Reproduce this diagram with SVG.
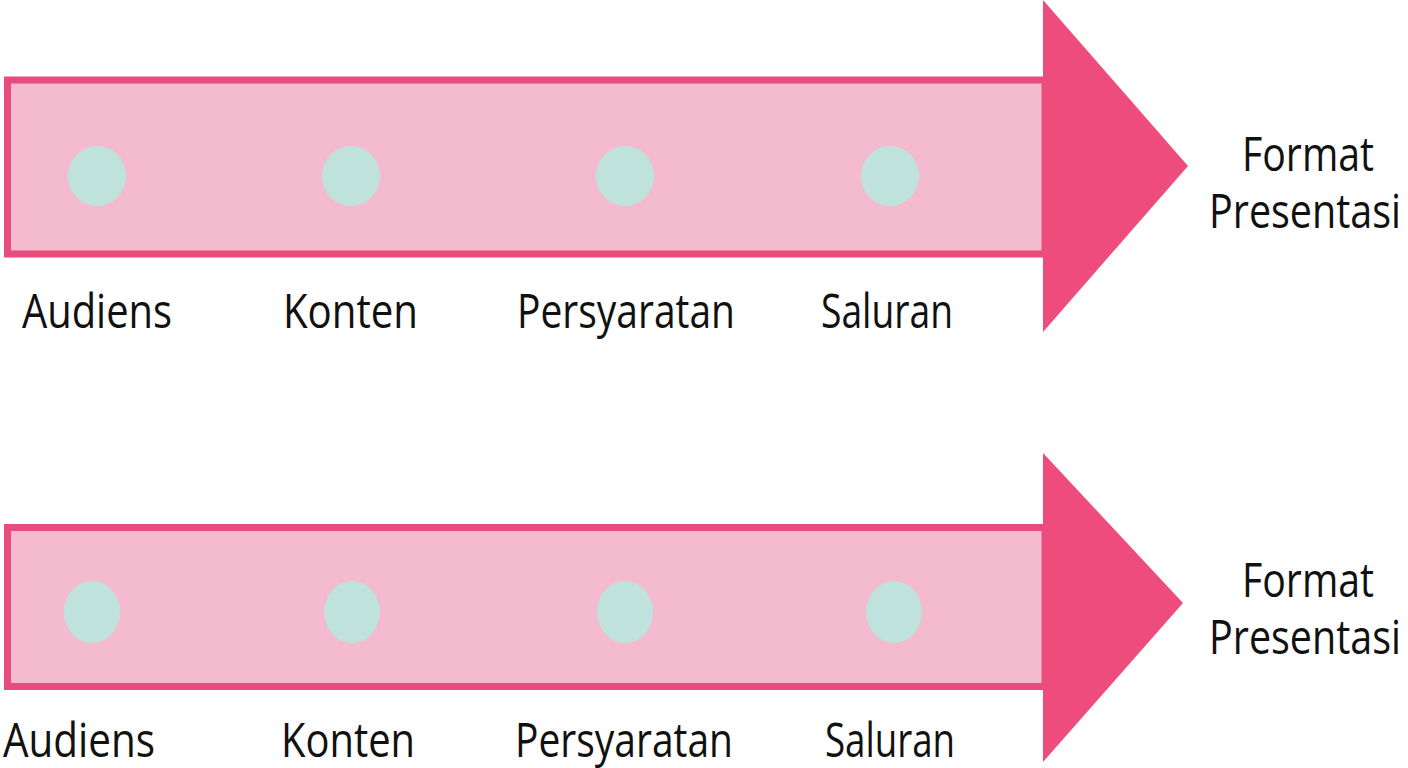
<svg xmlns="http://www.w3.org/2000/svg" width="1408" height="768" viewBox="0 0 1408 768">
<style>
.bar{fill:#F3BBCD;stroke:#E84C7D;stroke-width:7}
.head{fill:#EF4C7E}
.dot{fill:#BFE3DC}
.lbl{font-family:"Open Sans","Noto Sans",sans-serif;font-size:48px;fill:#111}
.end{font-family:"Open Sans","Noto Sans",sans-serif;font-size:48px;fill:#111;text-anchor:middle}
</style>
<rect width="1408" height="768" fill="#FFFFFF"/>
<g id="arrow1">
<rect class="bar" x="7.5" y="80" width="1037.5" height="174"/>
<polygon class="head" points="1043,0 1188,166 1043,332"/>
</g>
<g id="arrow2">
<rect class="bar" x="7.5" y="527.5" width="1037.5" height="159"/>
<polygon class="head" points="1043,453 1183,603 1043,762"/>
</g>
<g id="node-audiens-1"><ellipse class="dot" cx="97" cy="176" rx="29" ry="30"/><text class="lbl" x="22" y="328" textLength="150" lengthAdjust="spacingAndGlyphs">Audiens</text></g>
<g id="node-konten-1"><ellipse class="dot" cx="351" cy="176" rx="29" ry="30"/><text class="lbl" x="283" y="328" textLength="135" lengthAdjust="spacingAndGlyphs">Konten</text></g>
<g id="node-persyaratan-1"><ellipse class="dot" cx="625" cy="176" rx="29" ry="30"/><text class="lbl" x="517" y="328" textLength="218" lengthAdjust="spacingAndGlyphs">Persyaratan</text></g>
<g id="node-saluran-1"><ellipse class="dot" cx="890" cy="176" rx="29" ry="30"/><text class="lbl" x="821" y="328" textLength="132" lengthAdjust="spacingAndGlyphs">Saluran</text></g>
<g id="node-format-1"><text class="end" x="1308" y="171" textLength="132" lengthAdjust="spacingAndGlyphs">Format</text><text class="end" x="1305" y="228" textLength="192" lengthAdjust="spacingAndGlyphs">Presentasi</text></g>
<g id="node-audiens-2"><ellipse class="dot" cx="92" cy="612" rx="28" ry="31"/><text class="lbl" x="3" y="757" textLength="152" lengthAdjust="spacingAndGlyphs">Audiens</text></g>
<g id="node-konten-2"><ellipse class="dot" cx="352" cy="612" rx="28" ry="31"/><text class="lbl" x="281" y="757" textLength="134" lengthAdjust="spacingAndGlyphs">Konten</text></g>
<g id="node-persyaratan-2"><ellipse class="dot" cx="625" cy="612" rx="28" ry="31"/><text class="lbl" x="515" y="757" textLength="218" lengthAdjust="spacingAndGlyphs">Persyaratan</text></g>
<g id="node-saluran-2"><ellipse class="dot" cx="894" cy="612" rx="28" ry="31"/><text class="lbl" x="825" y="757" textLength="130" lengthAdjust="spacingAndGlyphs">Saluran</text></g>
<g id="node-format-2"><text class="end" x="1308" y="597" textLength="132" lengthAdjust="spacingAndGlyphs">Format</text><text class="end" x="1305" y="654" textLength="192" lengthAdjust="spacingAndGlyphs">Presentasi</text></g>
<g id="connectors"></g>
</svg>
